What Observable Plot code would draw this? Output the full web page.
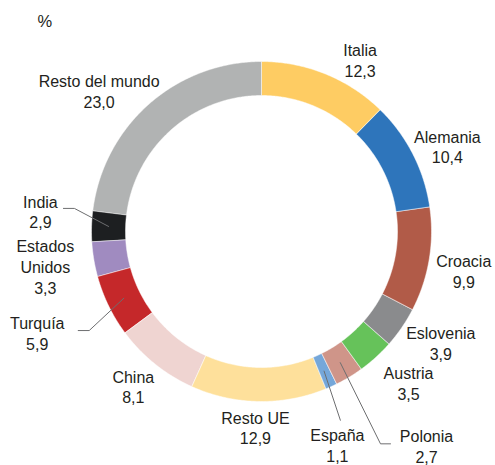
<!DOCTYPE html>
<html><head><meta charset="utf-8">
<script src="https://cdn.jsdelivr.net/npm/d3@7"></script>
<script src="https://cdn.jsdelivr.net/npm/@observablehq/plot@0.6"></script>
<style>body{margin:0;background:#fff}</style>
</head><body><div id="chart"></div>
<script>
// ---- data ----
const countries = ["Italia","Alemania","Croacia","Eslovenia","Austria","Polonia","España","Resto UE","China","Turquía","Estados\nUnidos","India","Resto del mundo"];
const shares = [12.3,10.4,9.9,3.9,3.5,2.7,1.1,12.9,8.1,5.9,3.3,2.9,23.0];
const colors = ["#fecc63","#2e75bb","#b15b48","#8a8b8d","#66c25a","#cf9589","#75a7d9","#fee09b","#efd4d1","#c5282a","#a08bc0","#1d1f21","#b1b3b3"];
const unitLabel = "%";

// ---- layout (label placement relative to slice mid-angle) ----
const W = 495, H = 465, CX = 261, CY = 231, R_IN = 136, R_OUT = 170, R_MID = 153;
const labelAngleShift = [7.7,2.3,1.3,-2.7,-2.0,-6.6,4.6,0.7,0.7,1.6,0.1,3.3,-7.6];
const labelRadius =     [198,204.5,206,211,211,270.5,226.8,196,201,246,219,222,215];
// leaders: [index, elbow offset from label, end offset from label]
const leaders = [
  [11, [34,-3], [23,-3]],
  [9,  [52,-2], [41,-2]],
  [5,  [-46,-2], [-36,-2]],
  [6,  null, [3,-25]]
];

const total = d3.sum(shares);
const fmt = v => v.toFixed(1).replace(".", ",");
const polar = (deg, r) => [r * Math.sin(deg * Math.PI / 180), -r * Math.cos(deg * Math.PI / 180)];

let cum = 0;
const slices = countries.map((name, i) => {
  const a0 = cum / total * 360;
  cum += shares[i];
  const a1 = cum / total * 360;
  return {name, value: shares[i], color: colors[i], a0, a1, mid: (a0 + a1) / 2, i};
});

const ringPts = [];
for (const s of slices) {
  const n = Math.max(2, Math.ceil((s.a1 - s.a0) / 0.5));
  for (let k = 0; k <= n; k++) {
    const a = s.a0 + (s.a1 - s.a0) * k / n;
    const [x, y] = polar(a, R_OUT);
    ringPts.push({name: s.name, color: s.color, x, y});
  }
  for (let k = n; k >= 0; k--) {
    const a = s.a0 + (s.a1 - s.a0) * k / n;
    const [x, y] = polar(a, R_IN);
    ringPts.push({name: s.name, color: s.color, x, y});
  }
}

const labels = slices.map(s => {
  const [x, y] = polar(s.mid + labelAngleShift[s.i], labelRadius[s.i]);
  return {x, y, text: s.name + "\n" + fmt(s.value)};
});

const leaderPts = [];
leaders.forEach(([i, elbow, end], li) => {
  const s = slices[i];
  const L = labels[i];
  const [sx, sy] = polar(s.mid, R_MID);
  leaderPts.push({id: li, x: sx, y: sy});
  if (elbow) leaderPts.push({id: li, x: L.x + elbow[0], y: L.y + elbow[1]});
  leaderPts.push({id: li, x: L.x + end[0], y: L.y + end[1]});
});

const chart = Plot.plot({
  width: W, height: H,
  margin: 0,
  x: {domain: [-CX, W - CX], axis: null},
  y: {domain: [H - CY, -CY], axis: null},
  color: {type: "identity"},
  style: {fontFamily: "'Liberation Sans', Arial, Helvetica, sans-serif", background: "#fff"},
  marks: [
    Plot.line(ringPts, {x: "x", y: "y", z: "name", fill: "color", stroke: "white", strokeWidth: 0.5, curve: "linear-closed"}),
    Plot.line(leaderPts, {x: "x", y: "y", z: "id", stroke: "#6d6e70", strokeWidth: 1}),
    Plot.text(labels, {x: "x", y: "y", text: "text", fontSize: 16, lineHeight: 1.3, fill: "#231f20", lineAnchor: "middle"}),
    Plot.text([unitLabel], {frameAnchor: "top-left", text: d => d, dx: 37, dy: 15, fontSize: 16.5, fill: "#231f20", textAnchor: "start"})
  ]
});
document.getElementById("chart").appendChild(chart);
</script>
</body></html>
